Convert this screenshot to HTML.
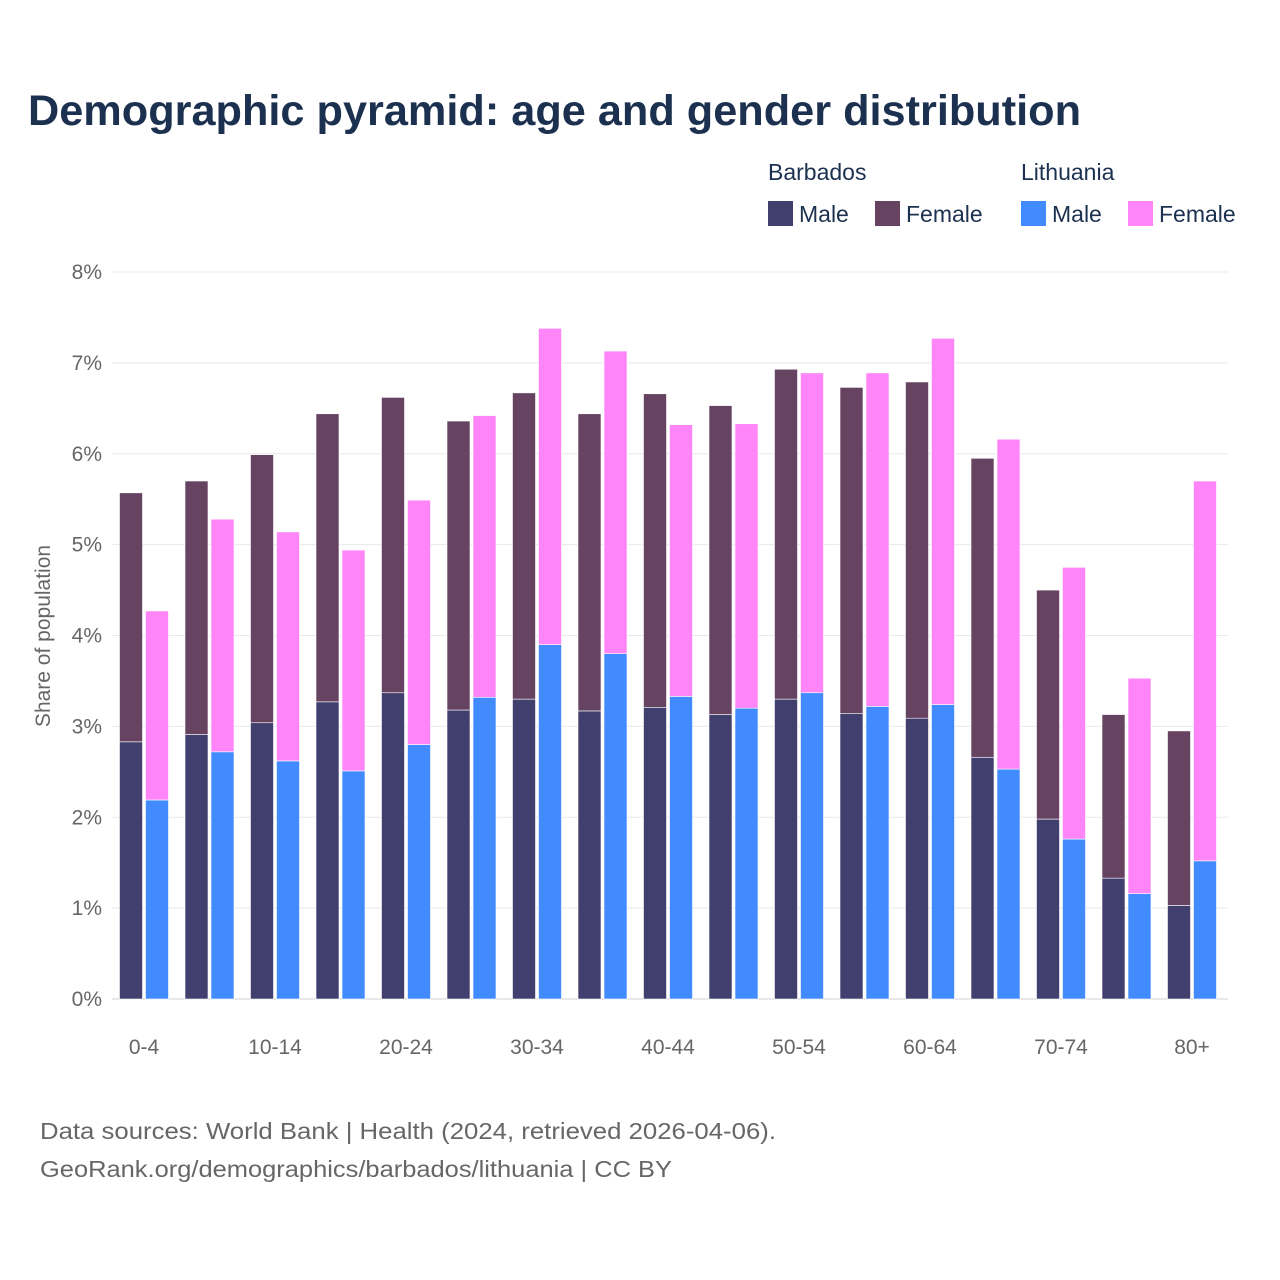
<!DOCTYPE html>
<html><head><meta charset="utf-8"><style>
body{margin:0;background:#fff;}
svg{display:block;font-family:"Liberation Sans",sans-serif;}
</style></head><body>
<svg id="chart" width="1280" height="1280" viewBox="0 0 1280 1280">
<text x="28" y="125" font-size="43" font-weight="bold" fill="#1c3150" textLength="1053" lengthAdjust="spacingAndGlyphs">Demographic pyramid: age and gender distribution</text>
<g>
<text x="768" y="180" font-size="23" fill="#1c3150">Barbados</text>
<text x="1021" y="180" font-size="23" fill="#1c3150">Lithuania</text>
<rect x="768" y="201" width="25" height="25" fill="#413f6e"/>
<text x="799" y="222" font-size="23" fill="#1c3150">Male</text>
<rect x="875" y="201" width="25" height="25" fill="#664361"/>
<text x="906" y="222" font-size="23" fill="#1c3150">Female</text>
<rect x="1021" y="201" width="25" height="25" fill="#418bff"/>
<text x="1052" y="222" font-size="23" fill="#1c3150">Male</text>
<rect x="1128" y="201" width="25" height="25" fill="#ff85f9"/>
<text x="1159" y="222" font-size="23" fill="#1c3150">Female</text>
</g>
<text transform="translate(50,636) rotate(-90)" text-anchor="middle" font-size="21" fill="#666">Share of population</text>
<g id="grid"></g><g id="bars"></g><g id="xlabels"></g>
<text x="40" y="1139" font-size="23" fill="#666" textLength="736" lengthAdjust="spacingAndGlyphs">Data sources: World Bank | Health (2024, retrieved 2026-04-06).</text>
<text x="40" y="1177" font-size="23" fill="#666" textLength="632" lengthAdjust="spacingAndGlyphs">GeoRank.org/demographics/barbados/lithuania | CC BY</text>
</svg>
<script>
const categories=["0-4","5-9","10-14","15-19","20-24","25-29","30-34","35-39","40-44","45-49","50-54","55-59","60-64","65-69","70-74","75-79","80+"];
const barbadosMale=[2.83,2.91,3.04,3.27,3.37,3.18,3.30,3.17,3.21,3.13,3.30,3.14,3.09,2.66,1.98,1.33,1.03];
const barbadosFemale=[2.74,2.79,2.95,3.17,3.25,3.18,3.37,3.27,3.45,3.40,3.63,3.59,3.70,3.29,2.52,1.80,1.92];
const lithuaniaMale=[2.19,2.72,2.62,2.51,2.80,3.32,3.90,3.80,3.33,3.20,3.37,3.22,3.24,2.53,1.76,1.16,1.52];
const lithuaniaFemale=[2.08,2.56,2.52,2.43,2.69,3.10,3.48,3.33,2.99,3.13,3.52,3.67,4.03,3.63,2.99,2.37,4.18];
const yTicks=[0,1,2,3,4,5,6,7,8];
const NS="http://www.w3.org/2000/svg";
const y=v=>999-v*90.875;
const xc=i=>144+65.5*i;
const grid=document.getElementById('grid'),bars=document.getElementById('bars'),xl=document.getElementById('xlabels');
function mk(tag,attrs,parent){const e=document.createElementNS(NS,tag);for(const k in attrs)e.setAttribute(k,attrs[k]);parent.appendChild(e);return e;}
yTicks.forEach(t=>{
 const l=mk('line',{x1:112,x2:1228,y1:y(t),y2:y(t),stroke:t===0?'#d0d0d0':'#e8e8e8','stroke-width':1},grid);
 
 
 const tx=mk('text',{x:102,y:y(t)+7,'text-anchor':'end','font-size':21,fill:'#666'},grid);
 tx.textContent=t+'%';
 
 
});
categories.forEach((c,i)=>{
 const segs=[[xc(i)-24.5,0,barbadosMale[i],'#413f6e','bar-barbados-male'],
  [xc(i)-24.5,barbadosMale[i],barbadosMale[i]+barbadosFemale[i],'#664361','bar-barbados-female'],
  [xc(i)+1.5,0,lithuaniaMale[i],'#418bff','bar-lithuania-male'],
  [xc(i)+1.5,lithuaniaMale[i],lithuaniaMale[i]+lithuaniaFemale[i],'#ff85f9','bar-lithuania-female']];
 segs.forEach(s=>{
  const r=mk('rect',{x:s[0],y:y(s[2]),width:23,height:y(s[1])-y(s[2]),fill:s[3],stroke:'#fff','stroke-width':0.6},bars);
  
  
 });
 if(i%2===0){
  const t=mk('text',{x:xc(i),y:1054,'text-anchor':'middle','font-size':21,fill:'#666'},xl);
  t.textContent=c;
  
  
 }
});
</script>
</body></html>
